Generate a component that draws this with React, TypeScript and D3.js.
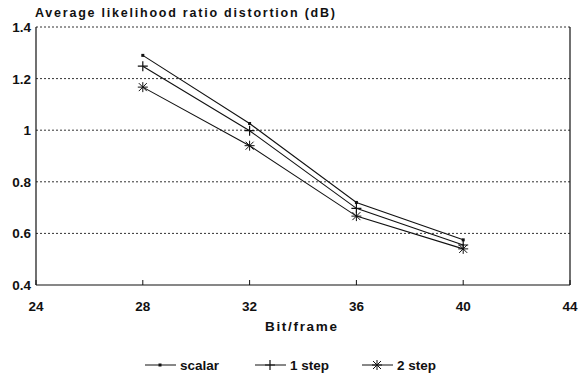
import React from "react";
import * as d3 from "d3";

const bits = [28, 32, 36, 40];
const scalar = [1.29, 1.026, 0.72, 0.575];
const oneStep = [1.248, 0.998, 0.697, 0.555];
const twoStep = [1.167, 0.94, 0.667, 0.54];
const xTicks = [24, 28, 32, 36, 40, 44];
const yTicks = [0.4, 0.6, 0.8, 1, 1.2, 1.4];
const seriesNames = ["scalar", "1 step", "2 step"];

const W = 581;
const H = 374;
const font = "Liberation Sans, Arial, sans-serif";

const Marker = ({ kind, x, y }: { kind: number; x: number; y: number }) => {
  if (kind === 0) return <rect x={x - 1.5} y={y - 1.5} width={3} height={3} fill="#111" />;
  if (kind === 1)
    return (
      <path d={`M${x - 5},${y}H${x + 5}M${x},${y - 5}V${y + 5}`} stroke="#111" strokeWidth={1.2} />
    );
  return (
    <path
      d={`M${x - 5},${y}H${x + 5}M${x},${y - 5}V${y + 5}M${x - 4},${y - 4}L${x + 4},${y + 4}M${x - 4},${y + 4}L${x + 4},${y - 4}`}
      stroke="#111"
      strokeWidth={1}
    />
  );
};

export default function App() {
  const x = d3.scaleLinear().domain([24, 44]).range([36, 570]);
  const y = d3.scaleLinear().domain([0.4, 1.4]).range([285, 27]);
  const series = [scalar, oneStep, twoStep];
  const line = d3
    .line<number>()
    .x((_, i) => x(bits[i]))
    .y((d) => y(d));

  const legendX = [145, 255, 362];
  const txt = { fontFamily: font, fontWeight: "bold" as const, fill: "#111" };

  return (
    <svg width={W} height={H} style={{ position: "absolute", left: 0, top: 0, background: "#fff" }}>
      <text x={35} y={17} fontSize={12.5} textLength={300} lengthAdjust="spacing" {...txt}>
        Average likelihood ratio distortion (dB)
      </text>

      {/* grid */}
      {yTicks.slice(1).map((t) => (
        <line
          key={t}
          x1={x(24)}
          x2={x(44)}
          y1={y(t)}
          y2={y(t)}
          stroke="#333"
          strokeWidth={1}
          strokeDasharray="2,2"
        />
      ))}
      <line x1={x(24)} x2={x(24)} y1={y(1.4)} y2={y(0.4)} stroke="#111" strokeWidth={1.2} />
      <line x1={x(44)} x2={x(44)} y1={y(1.4)} y2={y(0.4)} stroke="#111" strokeWidth={1.2} />
      <line x1={x(24)} x2={x(44)} y1={y(0.4)} y2={y(0.4)} stroke="#111" strokeWidth={1.2} />

      {xTicks.map((t) => (
        <g key={t}>
          <line x1={x(t)} x2={x(t)} y1={y(0.4)} y2={y(0.4) - 5} stroke="#111" />
          <text x={x(t)} y={311} textAnchor="middle" fontSize={13.5} {...txt}>
            {t}
          </text>
        </g>
      ))}
      {yTicks.map((t) => (
        <text key={t} x={31} y={y(t) + 5} textAnchor="end" fontSize={13.5} {...txt}>
          {t}
        </text>
      ))}

      <text x={301} y={331} textAnchor="middle" fontSize={13.5} textLength={72} lengthAdjust="spacing" {...txt}>
        Bit/frame
      </text>

      {series.map((s, k) => (
        <g key={k}>
          <path d={line(s) ?? ""} fill="none" stroke="#111" strokeWidth={1.1} />
          {s.map((v, i) => (
            <Marker key={i} kind={k} x={x(bits[i])} y={y(v)} />
          ))}
        </g>
      ))}

      {seriesNames.map((n, k) => (
        <g key={n}>
          <line x1={legendX[k]} x2={legendX[k] + 31} y1={365} y2={365} stroke="#111" strokeWidth={1} />
          <Marker kind={k} x={legendX[k] + 15} y={365} />
          <text x={legendX[k] + 35} y={370} fontSize={13.5} {...txt}>
            {n}
          </text>
        </g>
      ))}
    </svg>
  );
}
